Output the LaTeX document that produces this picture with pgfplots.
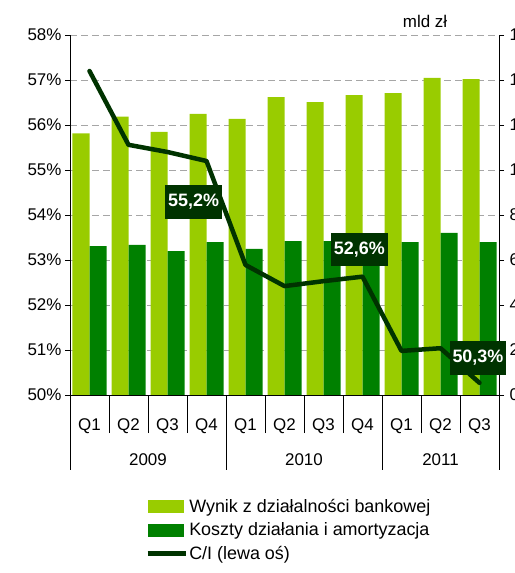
\documentclass[border=0pt]{standalone}
\usepackage{pgfplots}
\pgfplotsset{compat=1.18}
\usepackage{fontspec}
\setmainfont{Liberation Sans}
\definecolor{lgreen}{HTML}{99CC00}
\definecolor{dgreen}{HTML}{008000}
\definecolor{lineg}{HTML}{003300}
\definecolor{gridg}{HTML}{A6A6A6}

\begin{document}
\begin{tikzpicture}
\pgfplotsset{
  base/.style={
    at={(70bp,-395bp)}, anchor=south west,
    scale only axis, width=429bp, height=360bp,
    xmin=-0.5, xmax=10.5,
    /pgf/number format/assume math mode=true,
    ticklabel style={font=\fontsize{17}{19}\selectfont},
    tick align=outside,
    axis line style={black, line width=0.8pt},
    every tick/.style={black, line width=0.8pt},
    major tick length=5bp,
    clip mode=individual,
  }
}
% ---- bars (right axis, mld zl)
\begin{axis}[base,
  ybar=0pt, bar width=17bp,
  ymin=0, ymax=16, ytick={0,2,...,16},
  axis y line*=right, axis x line*=bottom,
  x axis line style={-},
  y axis line style={-},
  ymajorgrids, grid style={gridg, dash pattern=on 7bp off 4bp, line width=0.8pt},
  xtick={0,...,10},
  xticklabels={Q1,Q2,Q3,Q4,Q1,Q2,Q3,Q4,Q1,Q2,Q3},
  xtick style={draw=none},
  xticklabel style={anchor=base, yshift=-30bp},
  yticklabel style={anchor=west, xshift=2bp},
]
\addplot[fill=lgreen, draw=none] coordinates {
 (0,11.63) (1,12.37) (2,11.70) (3,12.49) (4,12.27) (5,13.24)
 (6,13.02) (7,13.33) (8,13.42) (9,14.10) (10,14.04)};
\addplot[fill=dgreen, draw=none] coordinates {
 (0,6.62) (1,6.67) (2,6.40) (3,6.80) (4,6.49) (5,6.84)
 (6,6.84) (7,6.87) (8,6.80) (9,7.21) (10,6.80)};
\end{axis}
% ---- C/I line (left axis)
\begin{axis}[base,
  ymin=50, ymax=58, ytick={50,51,...,58},
  yticklabel={\pgfmathprintnumber{\tick}\%},
  axis y line*=left, axis x line*=bottom,
  x axis line style={-}, y axis line style={-},
  xtick={0.5,1.5,2.5,4.5,5.5,6.5,8.5,9.5},
  xticklabels={},
  xtick style={/pgfplots/major tick length=38bp},
  legend style={at={(axis description cs:0.175,-0.286)}, anchor=north west,
    draw=none, fill=none, font=\fontsize{18}{20}\selectfont,
    inner sep=0pt, row sep=7bp,
    nodes={inner ysep=1bp, inner xsep=1.5bp}},
  legend cell align=left,
]
\addlegendimage{legend image code/.code={\fill[lgreen] (0bp,-6bp) rectangle (35bp,6bp);}}
\addlegendentry{Wynik z działalności bankowej}
\addlegendimage{legend image code/.code={\fill[dgreen] (0bp,-6bp) rectangle (35bp,6bp);}}
\addlegendentry{Koszty działania i amortyzacja}
\addlegendimage{legend image code/.code={\draw[lineg, line width=4.5bp] (-1bp,0bp) -- (37bp,0bp);}}
\addlegendentry{C/I (lewa oś)}
\addplot[lineg, line width=4.5bp, mark=none, line join=round, line cap=round, forget plot] coordinates {
 (0,57.2) (1,55.56) (2,55.4) (3,55.2) (4,52.89) (5,52.42)
 (6,52.53) (7,52.63) (8,50.98) (9,51.04) (10,50.27)};
\tikzset{lbl/.style={fill=lineg, text=white, font=\bfseries\fontsize{18}{20}\selectfont, inner xsep=3bp, inner ysep=9bp}}
\node[lbl] at (axis cs:2.67,54.29) {55,2\%};
\node[lbl] at (axis cs:6.92,53.24) {52,6\%};
\node[lbl] at (axis cs:9.96,50.82) {50,3\%};
\draw[black, line width=0.8pt] (axis cs:-0.5,50) -- ++(0bp,-75bp);
\draw[black, line width=0.8pt] (axis cs:3.5,50) -- ++(0bp,-75bp);
\draw[black, line width=0.8pt] (axis cs:7.5,50) -- ++(0bp,-75bp);
\draw[black, line width=0.8pt] (axis cs:10.5,50) -- ++(0bp,-75bp);
\node[font=\fontsize{17}{19}\selectfont, anchor=base] at (axis cs:1.5,50) [yshift=-70bp] {2009};
\node[font=\fontsize{17}{19}\selectfont, anchor=base] at (axis cs:5.5,50) [yshift=-70bp] {2010};
\node[font=\fontsize{17}{19}\selectfont, anchor=base] at (axis cs:9,50) [yshift=-70bp] {2011};
\end{axis}
\node[font=\fontsize{17}{19}\selectfont] at (425bp,-21.7bp) {mld zł};
\pgfresetboundingbox
\path[use as bounding box] (0bp,0bp) rectangle (515bp,-573bp);
\end{tikzpicture}
\end{document}
